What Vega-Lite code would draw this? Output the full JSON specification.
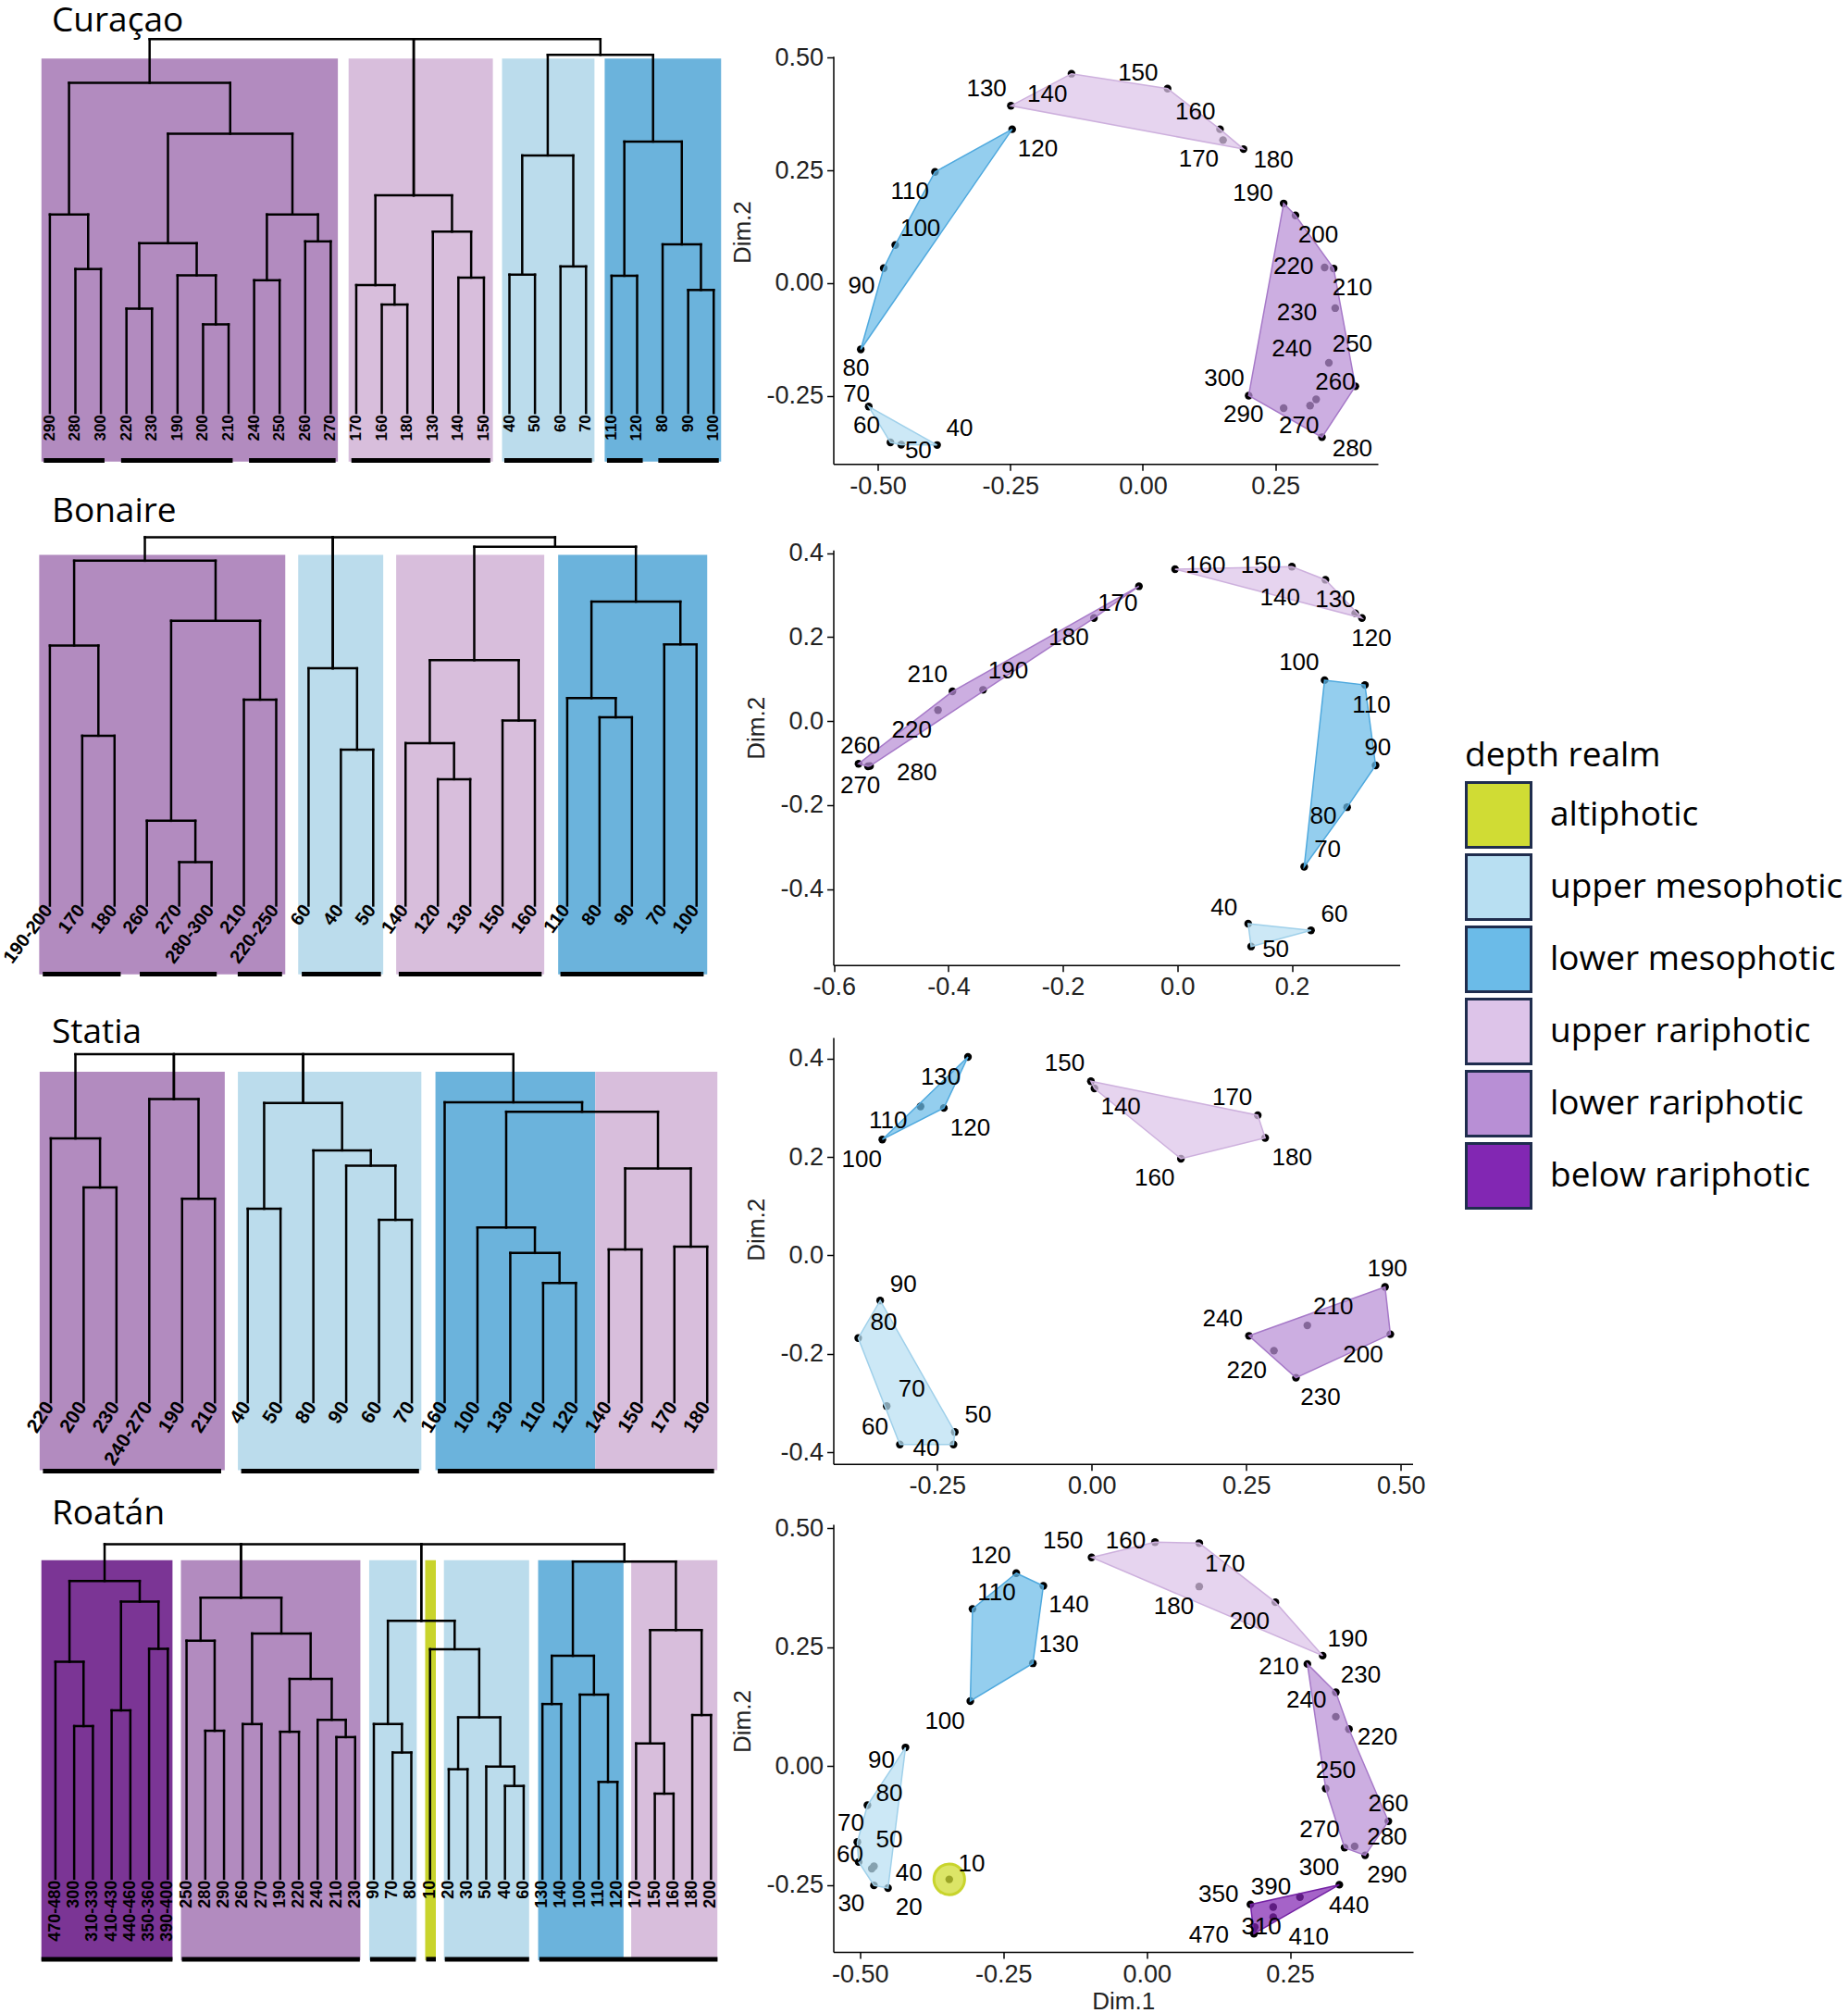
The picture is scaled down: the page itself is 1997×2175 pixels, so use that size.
{
"$schema":"https://vega.github.io/schema/vega-lite/v6.json",
"background":"white",
"padding":0,
"columns":2,
"spacing":{"row":0,"column":109.5},
"bounds":"flush",
"align":"each",
"datasets":{
"nodes":[
{"t":"Cur","xl":1,"xr":2,"hl":0,"hr":0,"h":0.385},
{"t":"Cur","xl":0,"xr":1.5,"hl":0,"hr":0.385,"h":0.531},
{"t":"Cur","xl":3,"xr":4,"hl":0,"hr":0,"h":0.279},
{"t":"Cur","xl":6,"xr":7,"hl":0,"hr":0,"h":0.237},
{"t":"Cur","xl":5,"xr":6.5,"hl":0,"hr":0.237,"h":0.368},
{"t":"Cur","xl":3.5,"xr":5.75,"hl":0.279,"hr":0.368,"h":0.454},
{"t":"Cur","xl":8,"xr":9,"hl":0,"hr":0,"h":0.355},
{"t":"Cur","xl":10,"xr":11,"hl":0,"hr":0,"h":0.459},
{"t":"Cur","xl":8.5,"xr":10.5,"hl":0.355,"hr":0.459,"h":0.531},
{"t":"Cur","xl":4.625,"xr":9.5,"hl":0.454,"hr":0.531,"h":0.747},
{"t":"Cur","xl":0.75,"xr":7.0625,"hl":0.531,"hr":0.747,"h":0.883},
{"t":"Cur","xl":13,"xr":14,"hl":0,"hr":0,"h":0.29},
{"t":"Cur","xl":12,"xr":13.5,"hl":0,"hr":0.29,"h":0.342},
{"t":"Cur","xl":16,"xr":17,"hl":0,"hr":0,"h":0.362},
{"t":"Cur","xl":15,"xr":16.5,"hl":0,"hr":0.362,"h":0.485},
{"t":"Cur","xl":12.75,"xr":15.75,"hl":0.342,"hr":0.485,"h":0.582},
{"t":"Cur","xl":18,"xr":19,"hl":0,"hr":0,"h":0.37},
{"t":"Cur","xl":20,"xr":21,"hl":0,"hr":0,"h":0.392},
{"t":"Cur","xl":18.5,"xr":20.5,"hl":0.37,"hr":0.392,"h":0.689},
{"t":"Cur","xl":22,"xr":23,"hl":0,"hr":0,"h":0.367},
{"t":"Cur","xl":25,"xr":26,"hl":0,"hr":0,"h":0.329},
{"t":"Cur","xl":24,"xr":25.5,"hl":0,"hr":0.329,"h":0.451},
{"t":"Cur","xl":22.5,"xr":24.75,"hl":0.367,"hr":0.451,"h":0.726},
{"t":"Cur","xl":19.5,"xr":23.625,"hl":0.689,"hr":0.726,"h":0.958},
{"t":"Cur","xl":3.90625,"xr":21.5625,"hl":0.883,"hr":0.958,"h":1},
{"t":"Cur","xl":14.25,"xr":14.25,"hl":0.582,"hr":0.582,"h":1},
{"t":"Bon","xl":1,"xr":2,"hl":0,"hr":0,"h":0.461},
{"t":"Bon","xl":0,"xr":1.5,"hl":0,"hr":0.461,"h":0.706},
{"t":"Bon","xl":4,"xr":5,"hl":0,"hr":0,"h":0.118},
{"t":"Bon","xl":3,"xr":4.5,"hl":0,"hr":0.118,"h":0.23},
{"t":"Bon","xl":6,"xr":7,"hl":0,"hr":0,"h":0.559},
{"t":"Bon","xl":3.75,"xr":6.5,"hl":0.23,"hr":0.559,"h":0.773},
{"t":"Bon","xl":0.75,"xr":5.125,"hl":0.706,"hr":0.773,"h":0.936},
{"t":"Bon","xl":9,"xr":10,"hl":0,"hr":0,"h":0.423},
{"t":"Bon","xl":8,"xr":9.5,"hl":0,"hr":0.423,"h":0.644},
{"t":"Bon","xl":12,"xr":13,"hl":0,"hr":0,"h":0.343},
{"t":"Bon","xl":11,"xr":12.5,"hl":0,"hr":0.343,"h":0.441},
{"t":"Bon","xl":14,"xr":15,"hl":0,"hr":0,"h":0.502},
{"t":"Bon","xl":11.75,"xr":14.5,"hl":0.441,"hr":0.502,"h":0.666},
{"t":"Bon","xl":17,"xr":18,"hl":0,"hr":0,"h":0.511},
{"t":"Bon","xl":16,"xr":17.5,"hl":0,"hr":0.511,"h":0.563},
{"t":"Bon","xl":19,"xr":20,"hl":0,"hr":0,"h":0.709},
{"t":"Bon","xl":16.75,"xr":19.5,"hl":0.563,"hr":0.709,"h":0.825},
{"t":"Bon","xl":13.125,"xr":18.125,"hl":0.666,"hr":0.825,"h":0.974},
{"t":"Bon","xl":2.9375,"xr":15.625,"hl":0.936,"hr":0.974,"h":1},
{"t":"Bon","xl":8.75,"xr":8.75,"hl":0.644,"hr":0.644,"h":1},
{"t":"Sta","xl":1,"xr":2,"hl":0,"hr":0,"h":0.617},
{"t":"Sta","xl":0,"xr":1.5,"hl":0,"hr":0.617,"h":0.758},
{"t":"Sta","xl":4,"xr":5,"hl":0,"hr":0,"h":0.585},
{"t":"Sta","xl":3,"xr":4.5,"hl":0,"hr":0.585,"h":0.871},
{"t":"Sta","xl":6,"xr":7,"hl":0,"hr":0,"h":0.556},
{"t":"Sta","xl":10,"xr":11,"hl":0,"hr":0,"h":0.524},
{"t":"Sta","xl":9,"xr":10.5,"hl":0,"hr":0.524,"h":0.68},
{"t":"Sta","xl":8,"xr":9.75,"hl":0,"hr":0.68,"h":0.724},
{"t":"Sta","xl":6.5,"xr":8.875,"hl":0.556,"hr":0.724,"h":0.86},
{"t":"Sta","xl":15,"xr":16,"hl":0,"hr":0,"h":0.343},
{"t":"Sta","xl":14,"xr":15.5,"hl":0,"hr":0.343,"h":0.429},
{"t":"Sta","xl":13,"xr":14.75,"hl":0,"hr":0.429,"h":0.502},
{"t":"Sta","xl":17,"xr":18,"hl":0,"hr":0,"h":0.439},
{"t":"Sta","xl":19,"xr":20,"hl":0,"hr":0,"h":0.447},
{"t":"Sta","xl":17.5,"xr":19.5,"hl":0.439,"hr":0.447,"h":0.672},
{"t":"Sta","xl":13.875,"xr":18.5,"hl":0.502,"hr":0.672,"h":0.835},
{"t":"Sta","xl":12,"xr":16.1875,"hl":0,"hr":0.835,"h":0.862},
{"t":"Sta","xl":0.75,"xr":14.09375,"hl":0.758,"hr":0.862,"h":1},
{"t":"Sta","xl":3.75,"xr":3.75,"hl":0.871,"hr":0.871,"h":1},
{"t":"Sta","xl":7.6875,"xr":7.6875,"hl":0.86,"hr":0.86,"h":1},
{"t":"Roa","xl":1,"xr":2,"hl":0,"hr":0,"h":0.456},
{"t":"Roa","xl":0,"xr":1.5,"hl":0,"hr":0.456,"h":0.648},
{"t":"Roa","xl":3,"xr":4,"hl":0,"hr":0,"h":0.503},
{"t":"Roa","xl":5,"xr":6,"hl":0,"hr":0,"h":0.687},
{"t":"Roa","xl":3.5,"xr":5.5,"hl":0.503,"hr":0.687,"h":0.828},
{"t":"Roa","xl":0.75,"xr":4.5,"hl":0.648,"hr":0.828,"h":0.89},
{"t":"Roa","xl":8,"xr":9,"hl":0,"hr":0,"h":0.442},
{"t":"Roa","xl":7,"xr":8.5,"hl":0,"hr":0.442,"h":0.711},
{"t":"Roa","xl":10,"xr":11,"hl":0,"hr":0,"h":0.462},
{"t":"Roa","xl":12,"xr":13,"hl":0,"hr":0,"h":0.439},
{"t":"Roa","xl":15,"xr":16,"hl":0,"hr":0,"h":0.423},
{"t":"Roa","xl":14,"xr":15.5,"hl":0,"hr":0.423,"h":0.475},
{"t":"Roa","xl":12.5,"xr":14.75,"hl":0.439,"hr":0.475,"h":0.597},
{"t":"Roa","xl":10.5,"xr":13.625,"hl":0.462,"hr":0.597,"h":0.733},
{"t":"Roa","xl":7.75,"xr":12.0625,"hl":0.711,"hr":0.733,"h":0.84},
{"t":"Roa","xl":18,"xr":19,"hl":0,"hr":0,"h":0.377},
{"t":"Roa","xl":17,"xr":18.5,"hl":0,"hr":0.377,"h":0.462},
{"t":"Roa","xl":21,"xr":22,"hl":0,"hr":0,"h":0.327},
{"t":"Roa","xl":24,"xr":25,"hl":0,"hr":0,"h":0.277},
{"t":"Roa","xl":23,"xr":24.5,"hl":0,"hr":0.277,"h":0.335},
{"t":"Roa","xl":21.5,"xr":23.75,"hl":0.327,"hr":0.335,"h":0.482},
{"t":"Roa","xl":20,"xr":22.625,"hl":0,"hr":0.482,"h":0.686},
{"t":"Roa","xl":17.75,"xr":21.3125,"hl":0.462,"hr":0.686,"h":0.771},
{"t":"Roa","xl":26,"xr":27,"hl":0,"hr":0,"h":0.522},
{"t":"Roa","xl":29,"xr":30,"hl":0,"hr":0,"h":0.289},
{"t":"Roa","xl":28,"xr":29.5,"hl":0,"hr":0.289,"h":0.55},
{"t":"Roa","xl":26.5,"xr":28.75,"hl":0.522,"hr":0.55,"h":0.666},
{"t":"Roa","xl":32,"xr":33,"hl":0,"hr":0,"h":0.254},
{"t":"Roa","xl":31,"xr":32.5,"hl":0,"hr":0.254,"h":0.404},
{"t":"Roa","xl":34,"xr":35,"hl":0,"hr":0,"h":0.489},
{"t":"Roa","xl":31.75,"xr":34.5,"hl":0.404,"hr":0.489,"h":0.743},
{"t":"Roa","xl":27.625,"xr":33.125,"hl":0.666,"hr":0.743,"h":0.948},
{"t":"Roa","xl":2.625,"xr":30.375,"hl":0.89,"hr":0.948,"h":1},
{"t":"Roa","xl":9.90625,"xr":9.90625,"hl":0.84,"hr":0.84,"h":1},
{"t":"Roa","xl":19.53125,"xr":19.53125,"hl":0.771,"hr":0.771,"h":1}
],
"leaves":[
{"t":"Cur","i":0,"lab":"290"},{"t":"Cur","i":1,"lab":"280"},{"t":"Cur","i":2,"lab":"300"},{"t":"Cur","i":3,"lab":"220"},{"t":"Cur","i":4,"lab":"230"},{"t":"Cur","i":5,"lab":"190"},{"t":"Cur","i":6,"lab":"200"},{"t":"Cur","i":7,"lab":"210"},{"t":"Cur","i":8,"lab":"240"},{"t":"Cur","i":9,"lab":"250"},{"t":"Cur","i":10,"lab":"260"},{"t":"Cur","i":11,"lab":"270"},{"t":"Cur","i":12,"lab":"170"},{"t":"Cur","i":13,"lab":"160"},{"t":"Cur","i":14,"lab":"180"},{"t":"Cur","i":15,"lab":"130"},{"t":"Cur","i":16,"lab":"140"},{"t":"Cur","i":17,"lab":"150"},{"t":"Cur","i":18,"lab":"40"},{"t":"Cur","i":19,"lab":"50"},{"t":"Cur","i":20,"lab":"60"},{"t":"Cur","i":21,"lab":"70"},{"t":"Cur","i":22,"lab":"110"},{"t":"Cur","i":23,"lab":"120"},{"t":"Cur","i":24,"lab":"80"},{"t":"Cur","i":25,"lab":"90"},{"t":"Cur","i":26,"lab":"100"},
{"t":"Bon","i":0,"lab":"190-200"},{"t":"Bon","i":1,"lab":"170"},{"t":"Bon","i":2,"lab":"180"},{"t":"Bon","i":3,"lab":"260"},{"t":"Bon","i":4,"lab":"270"},{"t":"Bon","i":5,"lab":"280-300"},{"t":"Bon","i":6,"lab":"210"},{"t":"Bon","i":7,"lab":"220-250"},{"t":"Bon","i":8,"lab":"60"},{"t":"Bon","i":9,"lab":"40"},{"t":"Bon","i":10,"lab":"50"},{"t":"Bon","i":11,"lab":"140"},{"t":"Bon","i":12,"lab":"120"},{"t":"Bon","i":13,"lab":"130"},{"t":"Bon","i":14,"lab":"150"},{"t":"Bon","i":15,"lab":"160"},{"t":"Bon","i":16,"lab":"110"},{"t":"Bon","i":17,"lab":"80"},{"t":"Bon","i":18,"lab":"90"},{"t":"Bon","i":19,"lab":"70"},{"t":"Bon","i":20,"lab":"100"},
{"t":"Sta","i":0,"lab":"220"},{"t":"Sta","i":1,"lab":"200"},{"t":"Sta","i":2,"lab":"230"},{"t":"Sta","i":3,"lab":"240-270"},{"t":"Sta","i":4,"lab":"190"},{"t":"Sta","i":5,"lab":"210"},{"t":"Sta","i":6,"lab":"40"},{"t":"Sta","i":7,"lab":"50"},{"t":"Sta","i":8,"lab":"80"},{"t":"Sta","i":9,"lab":"90"},{"t":"Sta","i":10,"lab":"60"},{"t":"Sta","i":11,"lab":"70"},{"t":"Sta","i":12,"lab":"160"},{"t":"Sta","i":13,"lab":"100"},{"t":"Sta","i":14,"lab":"130"},{"t":"Sta","i":15,"lab":"110"},{"t":"Sta","i":16,"lab":"120"},{"t":"Sta","i":17,"lab":"140"},{"t":"Sta","i":18,"lab":"150"},{"t":"Sta","i":19,"lab":"170"},{"t":"Sta","i":20,"lab":"180"},
{"t":"Roa","i":0,"lab":"470-480"},{"t":"Roa","i":1,"lab":"300"},{"t":"Roa","i":2,"lab":"310-330"},{"t":"Roa","i":3,"lab":"410-430"},{"t":"Roa","i":4,"lab":"440-460"},{"t":"Roa","i":5,"lab":"350-360"},{"t":"Roa","i":6,"lab":"390-400"},{"t":"Roa","i":7,"lab":"250"},{"t":"Roa","i":8,"lab":"280"},{"t":"Roa","i":9,"lab":"290"},{"t":"Roa","i":10,"lab":"260"},{"t":"Roa","i":11,"lab":"270"},{"t":"Roa","i":12,"lab":"190"},{"t":"Roa","i":13,"lab":"220"},{"t":"Roa","i":14,"lab":"240"},{"t":"Roa","i":15,"lab":"210"},{"t":"Roa","i":16,"lab":"230"},{"t":"Roa","i":17,"lab":"90"},{"t":"Roa","i":18,"lab":"70"},{"t":"Roa","i":19,"lab":"80"},{"t":"Roa","i":20,"lab":"10"},{"t":"Roa","i":21,"lab":"20"},{"t":"Roa","i":22,"lab":"30"},{"t":"Roa","i":23,"lab":"50"},{"t":"Roa","i":24,"lab":"40"},{"t":"Roa","i":25,"lab":"60"},{"t":"Roa","i":26,"lab":"130"},{"t":"Roa","i":27,"lab":"140"},{"t":"Roa","i":28,"lab":"100"},{"t":"Roa","i":29,"lab":"110"},{"t":"Roa","i":30,"lab":"120"},{"t":"Roa","i":31,"lab":"170"},{"t":"Roa","i":32,"lab":"150"},{"t":"Roa","i":33,"lab":"160"},{"t":"Roa","i":34,"lab":"180"},{"t":"Roa","i":35,"lab":"200"}
],
"rects":[
{"t":"Cur","x0":-0.33,"x1":11.28,"y0":-0.13,"y1":0.948,"realm":"lower rariphotic"},
{"t":"Cur","x0":11.7,"x1":17.35,"y0":-0.13,"y1":0.948,"realm":"upper rariphotic"},
{"t":"Cur","x0":17.71,"x1":21.33,"y0":-0.13,"y1":0.948,"realm":"upper mesophotic"},
{"t":"Cur","x0":21.73,"x1":26.29,"y0":-0.13,"y1":0.948,"realm":"lower mesophotic"},
{"t":"Bon","x0":-0.33,"x1":7.28,"y0":-0.187,"y1":0.952,"realm":"lower rariphotic"},
{"t":"Bon","x0":7.68,"x1":10.31,"y0":-0.187,"y1":0.952,"realm":"upper mesophotic"},
{"t":"Bon","x0":10.71,"x1":15.29,"y0":-0.187,"y1":0.952,"realm":"upper rariphotic"},
{"t":"Bon","x0":15.72,"x1":20.33,"y0":-0.187,"y1":0.952,"realm":"lower mesophotic"},
{"t":"Sta","x0":-0.34,"x1":5.3,"y0":-0.195,"y1":0.95,"realm":"lower rariphotic"},
{"t":"Sta","x0":5.7,"x1":11.29,"y0":-0.195,"y1":0.95,"realm":"upper mesophotic"},
{"t":"Sta","x0":11.72,"x1":16.59,"y0":-0.195,"y1":0.95,"realm":"lower mesophotic"},
{"t":"Sta","x0":16.59,"x1":20.31,"y0":-0.195,"y1":0.95,"realm":"upper rariphotic"},
{"t":"Roa","x0":-0.75,"x1":6.25,"y0":-0.244,"y1":0.952,"realm":"below rariphotic"},
{"t":"Roa","x0":6.7,"x1":16.28,"y0":-0.244,"y1":0.952,"realm":"lower rariphotic"},
{"t":"Roa","x0":16.75,"x1":19.29,"y0":-0.244,"y1":0.952,"realm":"upper mesophotic"},
{"t":"Roa","x0":19.74,"x1":20.31,"y0":-0.244,"y1":0.952,"realm":"altiphotic"},
{"t":"Roa","x0":20.74,"x1":25.29,"y0":-0.244,"y1":0.952,"realm":"upper mesophotic"},
{"t":"Roa","x0":25.77,"x1":30.33,"y0":-0.244,"y1":0.952,"realm":"lower mesophotic"},
{"t":"Roa","x0":30.74,"x1":35.34,"y0":-0.244,"y1":0.952,"realm":"upper rariphotic"}
],
"bars":[
{"t":"Cur","x0":-0.24,"x1":2.14,"y":-0.127},{"t":"Cur","x0":2.79,"x1":7.16,"y":-0.127},{"t":"Cur","x0":7.8,"x1":11.19,"y":-0.127},{"t":"Cur","x0":11.81,"x1":17.25,"y":-0.127},{"t":"Cur","x0":17.8,"x1":21.23,"y":-0.127},{"t":"Cur","x0":21.82,"x1":23.22,"y":-0.127},{"t":"Cur","x0":23.83,"x1":26.2,"y":-0.127},
{"t":"Bon","x0":-0.22,"x1":2.19,"y":-0.186},{"t":"Bon","x0":2.78,"x1":5.16,"y":-0.186},{"t":"Bon","x0":5.81,"x1":7.18,"y":-0.186},{"t":"Bon","x0":7.79,"x1":10.24,"y":-0.186},{"t":"Bon","x0":10.79,"x1":15.21,"y":-0.186},{"t":"Bon","x0":15.79,"x1":20.22,"y":-0.186},
{"t":"Sta","x0":-0.24,"x1":5.19,"y":-0.198},{"t":"Sta","x0":5.8,"x1":11.22,"y":-0.198},{"t":"Sta","x0":11.79,"x1":20.21,"y":-0.198},
{"t":"Roa","x0":-0.75,"x1":6.25,"y":-0.241},{"t":"Roa","x0":6.75,"x1":16.25,"y":-0.241},{"t":"Roa","x0":16.8,"x1":19.24,"y":-0.241},{"t":"Roa","x0":19.79,"x1":20.31,"y":-0.241},{"t":"Roa","x0":20.79,"x1":25.29,"y":-0.241},{"t":"Roa","x0":25.84,"x1":35.35,"y":-0.241}
],
"pts":[
{"t":"Cur","n":"40","x":-0.388,"y":-0.3587,"lx":-0.3454,"ly":-0.322,"realm":"upper mesophotic","ho":4},
{"t":"Cur","n":"50","x":-0.4557,"y":-0.358,"lx":-0.4235,"ly":-0.3705,"realm":"upper mesophotic","ho":3},
{"t":"Cur","n":"60","x":-0.476,"y":-0.353,"lx":-0.521,"ly":-0.315,"realm":"upper mesophotic","ho":2},
{"t":"Cur","n":"70","x":-0.517,"y":-0.2735,"lx":-0.54,"ly":-0.2458,"realm":"upper mesophotic","ho":1},
{"t":"Cur","n":"80","x":-0.532,"y":-0.1468,"lx":-0.541,"ly":-0.189,"realm":"lower mesophotic","ho":1},
{"t":"Cur","n":"90","x":-0.4887,"y":0.0332,"lx":-0.5306,"ly":-0.0069,"realm":"lower mesophotic","ho":2},
{"t":"Cur","n":"100","x":-0.467,"y":0.0845,"lx":-0.4195,"ly":0.1212,"realm":"lower mesophotic","ho":3},
{"t":"Cur","n":"110","x":-0.392,"y":0.2465,"lx":-0.4396,"ly":0.2029,"realm":"lower mesophotic","ho":4},
{"t":"Cur","n":"120","x":-0.2464,"y":0.341,"lx":-0.198,"ly":0.2978,"realm":"lower mesophotic","ho":5},
{"t":"Cur","n":"130","x":-0.2488,"y":0.393,"lx":-0.2947,"ly":0.4314,"realm":"upper rariphotic","ho":1},
{"t":"Cur","n":"140","x":-0.1345,"y":0.464,"lx":-0.1803,"ly":0.419,"realm":"upper rariphotic","ho":2},
{"t":"Cur","n":"150","x":0.0467,"y":0.431,"lx":-0.0089,"ly":0.466,"realm":"upper rariphotic","ho":3},
{"t":"Cur","n":"160","x":0.1457,"y":0.341,"lx":0.099,"ly":0.379,"realm":"upper rariphotic","ho":4},
{"t":"Cur","n":"170","x":0.1514,"y":0.317,"lx":0.1055,"ly":0.275,"realm":"upper rariphotic","ho":null},
{"t":"Cur","n":"180","x":0.19,"y":0.297,"lx":0.2464,"ly":0.272,"realm":"upper rariphotic","ho":5},
{"t":"Cur","n":"190","x":0.2657,"y":0.1766,"lx":0.2077,"ly":0.1994,"realm":"lower rariphotic","ho":1},
{"t":"Cur","n":"200","x":0.288,"y":0.15,"lx":0.3309,"ly":0.1073,"realm":"lower rariphotic","ho":2},
{"t":"Cur","n":"210","x":0.36,"y":0.0325,"lx":0.3953,"ly":-0.0104,"realm":"lower rariphotic","ho":3},
{"t":"Cur","n":"220","x":0.343,"y":0.0346,"lx":0.2842,"ly":0.036,"realm":"lower rariphotic","ho":null},
{"t":"Cur","n":"230","x":0.363,"y":-0.0554,"lx":0.2907,"ly":-0.0658,"realm":"lower rariphotic","ho":null},
{"t":"Cur","n":"240","x":0.327,"y":-0.2576,"lx":0.281,"ly":-0.1468,"realm":"lower rariphotic","ho":null},
{"t":"Cur","n":"250","x":0.351,"y":-0.1766,"lx":0.3953,"ly":-0.135,"realm":"lower rariphotic","ho":null},
{"t":"Cur","n":"260","x":0.401,"y":-0.2285,"lx":0.3631,"ly":-0.2195,"realm":"lower rariphotic","ho":4},
{"t":"Cur","n":"270","x":0.3156,"y":-0.2715,"lx":0.2947,"ly":-0.315,"realm":"lower rariphotic","ho":null},
{"t":"Cur","n":"280","x":0.338,"y":-0.3414,"lx":0.3953,"ly":-0.367,"realm":"lower rariphotic","ho":5},
{"t":"Cur","n":"290","x":0.2657,"y":-0.277,"lx":0.19,"ly":-0.2909,"realm":"lower rariphotic","ho":null},
{"t":"Cur","n":"300","x":0.1997,"y":-0.2493,"lx":0.1538,"ly":-0.2112,"realm":"lower rariphotic","ho":6},
{"t":"Bon","n":"40","x":0.1236,"y":-0.4819,"lx":0.0813,"ly":-0.4436,"realm":"upper mesophotic","ho":1},
{"t":"Bon","n":"50","x":0.1288,"y":-0.5363,"lx":0.1718,"ly":-0.5439,"realm":"upper mesophotic","ho":3},
{"t":"Bon","n":"60","x":0.2334,"y":-0.498,"lx":0.2742,"ly":-0.4597,"realm":"upper mesophotic","ho":2},
{"t":"Bon","n":"70","x":0.2215,"y":-0.3464,"lx":0.2623,"ly":-0.3058,"realm":"lower mesophotic","ho":5},
{"t":"Bon","n":"80","x":0.2965,"y":-0.2048,"lx":0.2549,"ly":-0.2262,"realm":"lower mesophotic","ho":4},
{"t":"Bon","n":"90","x":0.3462,"y":-0.1053,"lx":0.35,"ly":-0.0632,"realm":"lower mesophotic","ho":3},
{"t":"Bon","n":"100","x":0.2571,"y":0.0976,"lx":0.2126,"ly":0.1382,"realm":"lower mesophotic","ho":1},
{"t":"Bon","n":"110","x":0.3276,"y":0.0861,"lx":0.3388,"ly":0.0379,"realm":"lower mesophotic","ho":2},
{"t":"Bon","n":"120","x":0.3224,"y":0.2454,"lx":0.3388,"ly":0.1971,"realm":"upper rariphotic","ho":4},
{"t":"Bon","n":"130","x":0.3106,"y":0.2568,"lx":0.2757,"ly":0.289,"realm":"upper rariphotic","ho":null},
{"t":"Bon","n":"140","x":0.2586,"y":0.3365,"lx":0.1792,"ly":0.2928,"realm":"upper rariphotic","ho":3},
{"t":"Bon","n":"150","x":0.2,"y":0.3678,"lx":0.1458,"ly":0.3694,"realm":"upper rariphotic","ho":2},
{"t":"Bon","n":"160","x":-0.0041,"y":0.3617,"lx":0.0493,"ly":0.3694,"realm":"upper rariphotic","ho":1},
{"t":"Bon","n":"170","x":-0.0672,"y":0.3211,"lx":-0.1043,"ly":0.2798,"realm":"lower rariphotic","ho":1},
{"t":"Bon","n":"180","x":-0.1458,"y":0.2454,"lx":-0.1896,"ly":0.1987,"realm":"lower rariphotic","ho":2},
{"t":"Bon","n":"190","x":-0.3395,"y":0.0746,"lx":-0.2957,"ly":0.1183,"realm":"lower rariphotic","ho":null},
{"t":"Bon","n":"210","x":-0.393,"y":0.0708,"lx":-0.4367,"ly":0.1114,"realm":"lower rariphotic","ho":6},
{"t":"Bon","n":"220","x":-0.4182,"y":0.0264,"lx":-0.4642,"ly":-0.021,"realm":"lower rariphotic","ho":null},
{"t":"Bon","n":"260","x":-0.557,"y":-0.1014,"lx":-0.554,"ly":-0.0593,"realm":"lower rariphotic","ho":5},
{"t":"Bon","n":"270","x":-0.5406,"y":-0.1075,"lx":-0.554,"ly":-0.1535,"realm":"lower rariphotic","ho":4},
{"t":"Bon","n":"280","x":-0.5369,"y":-0.1067,"lx":-0.4553,"ly":-0.1229,"realm":"lower rariphotic","ho":3},
{"t":"Sta","n":"40","x":-0.2237,"y":-0.384,"lx":-0.2678,"ly":-0.3917,"realm":"upper mesophotic","ho":3},
{"t":"Sta","n":"50","x":-0.2216,"y":-0.3584,"lx":-0.184,"ly":-0.3245,"realm":"upper mesophotic","ho":2},
{"t":"Sta","n":"60","x":-0.3104,"y":-0.384,"lx":-0.3509,"ly":-0.3488,"realm":"upper mesophotic","ho":4},
{"t":"Sta","n":"70","x":-0.3317,"y":-0.3059,"lx":-0.2912,"ly":-0.2707,"realm":"upper mesophotic","ho":null},
{"t":"Sta","n":"80","x":-0.3778,"y":-0.1677,"lx":-0.3366,"ly":-0.1363,"realm":"upper mesophotic","ho":5},
{"t":"Sta","n":"90","x":-0.3423,"y":-0.0915,"lx":-0.3047,"ly":-0.0595,"realm":"upper mesophotic","ho":1},
{"t":"Sta","n":"100","x":-0.3388,"y":0.2355,"lx":-0.3722,"ly":0.1952,"realm":"lower mesophotic","ho":1},
{"t":"Sta","n":"110","x":-0.277,"y":0.3027,"lx":-0.3295,"ly":0.2739,"realm":"lower mesophotic","ho":null},
{"t":"Sta","n":"120","x":-0.2393,"y":0.2995,"lx":-0.1967,"ly":0.2592,"realm":"lower mesophotic","ho":3},
{"t":"Sta","n":"130","x":-0.2003,"y":0.4032,"lx":-0.2443,"ly":0.3616,"realm":"lower mesophotic","ho":2},
{"t":"Sta","n":"140","x":0.0043,"y":0.3392,"lx":0.0469,"ly":0.3008,"realm":"upper rariphotic","ho":5},
{"t":"Sta","n":"150","x":-0.0014,"y":0.3539,"lx":-0.044,"ly":0.3891,"realm":"upper rariphotic","ho":1},
{"t":"Sta","n":"160","x":0.1442,"y":0.1965,"lx":0.1016,"ly":0.1568,"realm":"upper rariphotic","ho":4},
{"t":"Sta","n":"170","x":0.2685,"y":0.2848,"lx":0.2273,"ly":0.32,"realm":"upper rariphotic","ho":2},
{"t":"Sta","n":"180","x":0.2805,"y":0.2387,"lx":0.3239,"ly":0.1984,"realm":"upper rariphotic","ho":3},
{"t":"Sta","n":"190","x":0.4744,"y":-0.064,"lx":0.478,"ly":-0.0269,"realm":"lower rariphotic","ho":2},
{"t":"Sta","n":"200","x":0.483,"y":-0.16,"lx":0.439,"ly":-0.2016,"realm":"lower rariphotic","ho":3},
{"t":"Sta","n":"210","x":0.3487,"y":-0.1421,"lx":0.3906,"ly":-0.1043,"realm":"lower rariphotic","ho":null},
{"t":"Sta","n":"220","x":0.2947,"y":-0.1933,"lx":0.2507,"ly":-0.2336,"realm":"lower rariphotic","ho":null},
{"t":"Sta","n":"230","x":0.3303,"y":-0.2483,"lx":0.37,"ly":-0.288,"realm":"lower rariphotic","ho":4},
{"t":"Sta","n":"240","x":0.2543,"y":-0.1632,"lx":0.2116,"ly":-0.128,"realm":"lower rariphotic","ho":1},
{"t":"Roa","n":"10","x":-0.3443,"y":-0.2377,"lx":-0.3053,"ly":-0.2048,"realm":"altiphotic","ho":null},
{"t":"Roa","n":"20","x":-0.4511,"y":-0.256,"lx":-0.4145,"ly":-0.2959,"realm":"upper mesophotic","ho":2},
{"t":"Roa","n":"30","x":-0.4756,"y":-0.2504,"lx":-0.5153,"ly":-0.2889,"realm":"upper mesophotic","ho":3},
{"t":"Roa","n":"40","x":-0.4794,"y":-0.2153,"lx":-0.4145,"ly":-0.2258,"realm":"upper mesophotic","ho":null},
{"t":"Roa","n":"50","x":-0.4756,"y":-0.2104,"lx":-0.4489,"ly":-0.1557,"realm":"upper mesophotic","ho":null},
{"t":"Roa","n":"60","x":-0.5023,"y":-0.2013,"lx":-0.5176,"ly":-0.1851,"realm":"upper mesophotic","ho":4},
{"t":"Roa","n":"70","x":-0.5046,"y":-0.1592,"lx":-0.516,"ly":-0.1192,"realm":"upper mesophotic","ho":5},
{"t":"Roa","n":"80","x":-0.487,"y":-0.082,"lx":-0.4489,"ly":-0.0575,"realm":"upper mesophotic","ho":6},
{"t":"Roa","n":"90","x":-0.4206,"y":0.0393,"lx":-0.4626,"ly":0.0126,"realm":"upper mesophotic","ho":1},
{"t":"Roa","n":"100","x":-0.3076,"y":0.1367,"lx":-0.3519,"ly":0.0933,"realm":"lower mesophotic","ho":4},
{"t":"Roa","n":"110","x":-0.3038,"y":0.3303,"lx":-0.2618,"ly":0.3633,"realm":"lower mesophotic","ho":5},
{"t":"Roa","n":"120","x":-0.2275,"y":0.4053,"lx":-0.2718,"ly":0.4418,"realm":"lower mesophotic","ho":1},
{"t":"Roa","n":"130","x":-0.1985,"y":0.216,"lx":-0.1534,"ly":0.2546,"realm":"lower mesophotic","ho":3},
{"t":"Roa","n":"140","x":-0.1802,"y":0.3787,"lx":-0.1359,"ly":0.3387,"realm":"lower mesophotic","ho":2},
{"t":"Roa","n":"150","x":-0.0962,"y":0.4383,"lx":-0.1458,"ly":0.472,"realm":"upper rariphotic","ho":1},
{"t":"Roa","n":"160","x":0.0145,"y":0.4705,"lx":-0.0366,"ly":0.472,"realm":"upper rariphotic","ho":2},
{"t":"Roa","n":"170","x":0.0916,"y":0.4684,"lx":0.1366,"ly":0.425,"realm":"upper rariphotic","ho":3},
{"t":"Roa","n":"180","x":0.0916,"y":0.3773,"lx":0.0473,"ly":0.3352,"realm":"upper rariphotic","ho":null},
{"t":"Roa","n":"190","x":0.3069,"y":0.2321,"lx":0.3504,"ly":0.2672,"realm":"upper rariphotic","ho":5},
{"t":"Roa","n":"200","x":0.2244,"y":0.3443,"lx":0.1794,"ly":0.3036,"realm":"upper rariphotic","ho":4},
{"t":"Roa","n":"210","x":0.2802,"y":0.2146,"lx":0.2305,"ly":0.209,"realm":"lower rariphotic","ho":1},
{"t":"Roa","n":"220","x":0.3527,"y":0.0778,"lx":0.4023,"ly":0.0603,"realm":"lower rariphotic","ho":3},
{"t":"Roa","n":"230","x":0.3298,"y":0.155,"lx":0.3733,"ly":0.1914,"realm":"lower rariphotic","ho":2},
{"t":"Roa","n":"240","x":0.3298,"y":0.1038,"lx":0.2786,"ly":0.1388,"realm":"lower rariphotic","ho":null},
{"t":"Roa","n":"250","x":0.3122,"y":-0.047,"lx":0.3298,"ly":-0.0084,"realm":"lower rariphotic","ho":7},
{"t":"Roa","n":"260","x":0.4214,"y":-0.1157,"lx":0.4214,"ly":-0.0785,"realm":"lower rariphotic","ho":4},
{"t":"Roa","n":"270","x":0.345,"y":-0.1711,"lx":0.3015,"ly":-0.1332,"realm":"lower rariphotic","ho":6},
{"t":"Roa","n":"280","x":0.3626,"y":-0.1683,"lx":0.4191,"ly":-0.1487,"realm":"lower rariphotic","ho":null},
{"t":"Roa","n":"290","x":0.3809,"y":-0.1872,"lx":0.4191,"ly":-0.2293,"realm":"lower rariphotic","ho":5},
{"t":"Roa","n":"300","x":0.2672,"y":-0.2749,"lx":0.3008,"ly":-0.2132,"realm":"below rariphotic","ho":null},
{"t":"Roa","n":"310","x":0.1885,"y":-0.338,"lx":0.2,"ly":-0.338,"realm":"below rariphotic","ho":null},
{"t":"Roa","n":"350","x":0.1809,"y":-0.2903,"lx":0.1252,"ly":-0.27,"realm":"below rariphotic","ho":1},
{"t":"Roa","n":"390","x":0.2206,"y":-0.2959,"lx":0.2168,"ly":-0.2539,"realm":"below rariphotic","ho":null},
{"t":"Roa","n":"410","x":0.2206,"y":-0.317,"lx":0.2824,"ly":-0.359,"realm":"below rariphotic","ho":null},
{"t":"Roa","n":"440","x":0.3359,"y":-0.249,"lx":0.3527,"ly":-0.2938,"realm":"below rariphotic","ho":2},
{"t":"Roa","n":"470","x":0.187,"y":-0.352,"lx":0.1084,"ly":-0.3555,"realm":"below rariphotic","ho":3}
]
},
"concat":[
{"width":790,"height":530,
"title":{"text":"Curaçao","anchor":"start","frame":"group","orient":"top","offset":-71,"dx":55,"baseline":"alphabetic","font":"Open Sans","fontSize":37,"fontWeight":"normal","color":"black"},
"layer":[
{"data":{"name":"rects"},"transform":[{"filter":"datum.t=='Cur'"}],"mark":{"type":"rect"},"encoding":{"x":{"field":"x0","type":"quantitative","scale":{"domain":[-1.917,26.716],"nice":false,"zero":false},"axis":null},"x2":{"field":"x1"},"y":{"field":"y0","type":"quantitative","scale":{"domain":[-0.2075,1.1047],"nice":false,"zero":false},"axis":null},"y2":{"field":"y1"},"color":{"field":"realm","type":"nominal","scale":{"domain":["below rariphotic","lower rariphotic","upper rariphotic","lower mesophotic","upper mesophotic","altiphotic"],"range":["#7b3595","#b28bbf","#d8bedc","#6bb3dc","#bbdcec","#c9d42c"]},"legend":null}}},
{"data":{"name":"bars"},"transform":[{"filter":"datum.t=='Cur'"}],"mark":{"type":"rule","color":"black","strokeWidth":5,"strokeCap":"butt"},"encoding":{"x":{"field":"x0","type":"quantitative","axis":null},"x2":{"field":"x1"},"y":{"field":"y","type":"quantitative","axis":null}}},
{"data":{"name":"nodes"},"transform":[{"filter":"datum.t=='Cur'"}],"mark":{"type":"rule","color":"black","strokeWidth":2.5,"strokeCap":"square"},"encoding":{"x":{"field":"xl","type":"quantitative","axis":null},"x2":{"field":"xr"},"y":{"field":"h","type":"quantitative","axis":null}}},
{"data":{"name":"nodes"},"transform":[{"filter":"datum.t=='Cur'"}],"mark":{"type":"rule","color":"black","strokeWidth":2.5,"strokeCap":"square"},"encoding":{"x":{"field":"xl","type":"quantitative","axis":null},"y":{"field":"hl","type":"quantitative","axis":null},"y2":{"field":"h"}}},
{"data":{"name":"nodes"},"transform":[{"filter":"datum.t=='Cur'"}],"mark":{"type":"rule","color":"black","strokeWidth":2.5,"strokeCap":"square"},"encoding":{"x":{"field":"xr","type":"quantitative","axis":null},"y":{"field":"hr","type":"quantitative","axis":null},"y2":{"field":"h"}}},
{"data":{"name":"leaves"},"transform":[{"filter":"datum.t=='Cur'"}],"mark":{"type":"text","angle":270,"align":"right","baseline":"middle","dx":-2,"font":"Liberation Sans","fontSize":17,"fontWeight":"bold","color":"black"},"encoding":{"x":{"field":"i","type":"quantitative","axis":null},"y":{"datum":0,"type":"quantitative","axis":null},"text":{"field":"lab"}}}
]},
{"width":588.5,"height":501.3,
"layer":[
{"data":{"name":"pts"},"transform":[{"filter":"datum.t=='Cur'"}],"mark":{"type":"circle","size":70,"color":"black","opacity":1},"encoding":{"x":{"field":"x","type":"quantitative","scale":{"domain":[-0.5838,0.4435],"nice":false,"zero":false},"axis":{"values":[-0.5,-0.25,0,0.25],"labelExpr":"replace(format(datum.value,'.2f'),'\u2212','-')","title":null}},"y":{"field":"y","type":"quantitative","scale":{"domain":[-0.4007,0.6274],"nice":false,"zero":false},"axis":{"values":[-0.25,0,0.25,0.5],"labelExpr":"replace(format(datum.value,'.2f'),'\u2212','-')","title":"Dim.2","domainDash":[440.5,3000]}}}},
{"data":{"name":"pts"},"transform":[{"filter":"datum.t=='Cur' && isValid(datum.ho)"}],"mark":{"type":"line","interpolate":"linear-closed","fillOpacity":0.72,"strokeWidth":1.5},"encoding":{"x":{"field":"x","type":"quantitative","axis":{"values":[-0.5,-0.25,0,0.25],"labelExpr":"replace(format(datum.value,'.2f'),'\u2212','-')","title":null}},"y":{"field":"y","type":"quantitative","axis":{"values":[-0.25,0,0.25,0.5],"labelExpr":"replace(format(datum.value,'.2f'),'\u2212','-')","title":"Dim.2","domainDash":[440.5,3000]}},"order":{"field":"ho","type":"quantitative"},"fill":{"field":"realm","type":"nominal","scale":{"domain":["altiphotic","upper mesophotic","lower mesophotic","upper rariphotic","lower rariphotic","below rariphotic"],"range":["#d0dc34","#b8dff2","#6bbbe8","#ddc4e9","#b88fd5","#8227b3"]},"legend":{"title":"depth realm","orient":"none","legendX":1582,"legendY":799,"padding":0,"symbolType":"square","symbolSize":4900,"symbolStrokeColor":"#1f2d4e","symbolStrokeWidth":3,"symbolOpacity":1,"titleFont":"Open Sans","titleFontSize":37,"titleFontWeight":"normal","titleColor":"black","titlePadding":8,"titleLimit":0,"labelFont":"Open Sans","labelFontSize":37,"labelColor":"black","labelOffset":19,"labelLimit":0,"rowPadding":-13.5,"encode":{"symbols":{"update":{"fill":{"scale":"fill","field":"value"},"fillOpacity":{"value":1},"opacity":{"value":1},"stroke":{"value":"#1f2d4e"},"strokeWidth":{"value":3}}}}}},"stroke":{"field":"realm","type":"nominal","scale":{"domain":["upper mesophotic","altiphotic","lower mesophotic","upper rariphotic","lower rariphotic","below rariphotic"],"range":["#9fd0ea","#c8d42c","#4fa9de","#cdb0dd","#a679c8","#7321a3"]},"legend":null}}},
{"data":{"name":"pts"},"transform":[{"filter":"datum.t=='Cur'"}],"mark":{"type":"text","font":"Liberation Sans","fontSize":26,"color":"black","align":"center","baseline":"middle"},"encoding":{"x":{"field":"lx","type":"quantitative","axis":{"values":[-0.5,-0.25,0,0.25],"labelExpr":"replace(format(datum.value,'.2f'),'\u2212','-')","title":null}},"y":{"field":"ly","type":"quantitative","axis":{"values":[-0.25,0,0.25,0.5],"labelExpr":"replace(format(datum.value,'.2f'),'\u2212','-')","title":"Dim.2","domainDash":[440.5,3000]}},"text":{"field":"n"}}}
]},
{"width":790,"height":545,
"title":{"text":"Bonaire","anchor":"start","frame":"group","orient":"top","offset":-71,"dx":55,"baseline":"alphabetic","font":"Open Sans","fontSize":37,"fontWeight":"normal","color":"black"},
"layer":[
{"data":{"name":"rects"},"transform":[{"filter":"datum.t=='Bon'"}],"mark":{"type":"rect"},"encoding":{"x":{"field":"x0","type":"quantitative","scale":{"domain":[-1.514,21.096],"nice":false,"zero":false},"axis":null},"x2":{"field":"x1"},"y":{"field":"y0","type":"quantitative","scale":{"domain":[-0.2427,1.1266],"nice":false,"zero":false},"axis":null},"y2":{"field":"y1"},"color":{"field":"realm","type":"nominal","scale":{"domain":["below rariphotic","lower rariphotic","upper rariphotic","lower mesophotic","upper mesophotic","altiphotic"],"range":["#7b3595","#b28bbf","#d8bedc","#6bb3dc","#bbdcec","#c9d42c"]},"legend":null}}},
{"data":{"name":"bars"},"transform":[{"filter":"datum.t=='Bon'"}],"mark":{"type":"rule","color":"black","strokeWidth":5,"strokeCap":"butt"},"encoding":{"x":{"field":"x0","type":"quantitative","axis":null},"x2":{"field":"x1"},"y":{"field":"y","type":"quantitative","axis":null}}},
{"data":{"name":"nodes"},"transform":[{"filter":"datum.t=='Bon'"}],"mark":{"type":"rule","color":"black","strokeWidth":2.5,"strokeCap":"square"},"encoding":{"x":{"field":"xl","type":"quantitative","axis":null},"x2":{"field":"xr"},"y":{"field":"h","type":"quantitative","axis":null}}},
{"data":{"name":"nodes"},"transform":[{"filter":"datum.t=='Bon'"}],"mark":{"type":"rule","color":"black","strokeWidth":2.5,"strokeCap":"square"},"encoding":{"x":{"field":"xl","type":"quantitative","axis":null},"y":{"field":"hl","type":"quantitative","axis":null},"y2":{"field":"h"}}},
{"data":{"name":"nodes"},"transform":[{"filter":"datum.t=='Bon'"}],"mark":{"type":"rule","color":"black","strokeWidth":2.5,"strokeCap":"square"},"encoding":{"x":{"field":"xr","type":"quantitative","axis":null},"y":{"field":"hr","type":"quantitative","axis":null},"y2":{"field":"h"}}},
{"data":{"name":"leaves"},"transform":[{"filter":"datum.t=='Bon'"}],"mark":{"type":"text","angle":307,"align":"right","baseline":"middle","dx":-2,"font":"Liberation Sans","fontSize":20,"fontWeight":"bold","color":"black"},"encoding":{"x":{"field":"i","type":"quantitative","axis":null},"y":{"datum":0,"type":"quantitative","axis":null},"text":{"field":"lab"}}}
]},
{"width":612.1,"height":512.7,
"layer":[
{"data":{"name":"pts"},"transform":[{"filter":"datum.t=='Bon'"}],"mark":{"type":"circle","size":70,"color":"black","opacity":1},"encoding":{"x":{"field":"x","type":"quantitative","scale":{"domain":[-0.6011,0.3884],"nice":false,"zero":false},"axis":{"values":[-0.6,-0.4,-0.2,0,0.2],"labelExpr":"replace(format(datum.value,'.1f'),'\u2212','-')","title":null}},"y":{"field":"y","type":"quantitative","scale":{"domain":[-0.5804,0.5489],"nice":false,"zero":false},"axis":{"values":[-0.4,-0.2,0,0.2,0.4],"labelExpr":"replace(format(datum.value,'.1f'),'\u2212','-')","title":"Dim.2","domainDash":[448.4,3000]}}}},
{"data":{"name":"pts"},"transform":[{"filter":"datum.t=='Bon' && isValid(datum.ho)"}],"mark":{"type":"line","interpolate":"linear-closed","fillOpacity":0.72,"strokeWidth":1.5},"encoding":{"x":{"field":"x","type":"quantitative","axis":{"values":[-0.6,-0.4,-0.2,0,0.2],"labelExpr":"replace(format(datum.value,'.1f'),'\u2212','-')","title":null}},"y":{"field":"y","type":"quantitative","axis":{"values":[-0.4,-0.2,0,0.2,0.4],"labelExpr":"replace(format(datum.value,'.1f'),'\u2212','-')","title":"Dim.2","domainDash":[448.4,3000]}},"order":{"field":"ho","type":"quantitative"},"fill":{"field":"realm","type":"nominal","scale":{"domain":["altiphotic","upper mesophotic","lower mesophotic","upper rariphotic","lower rariphotic","below rariphotic"],"range":["#d0dc34","#b8dff2","#6bbbe8","#ddc4e9","#b88fd5","#8227b3"]},"legend":{"title":"depth realm","orient":"none","legendX":1582,"legendY":799,"padding":0,"symbolType":"square","symbolSize":4900,"symbolStrokeColor":"#1f2d4e","symbolStrokeWidth":3,"symbolOpacity":1,"titleFont":"Open Sans","titleFontSize":37,"titleFontWeight":"normal","titleColor":"black","titlePadding":8,"titleLimit":0,"labelFont":"Open Sans","labelFontSize":37,"labelColor":"black","labelOffset":19,"labelLimit":0,"rowPadding":-13.5,"encode":{"symbols":{"update":{"fill":{"scale":"fill","field":"value"},"fillOpacity":{"value":1},"opacity":{"value":1},"stroke":{"value":"#1f2d4e"},"strokeWidth":{"value":3}}}}}},"stroke":{"field":"realm","type":"nominal","scale":{"domain":["upper mesophotic","altiphotic","lower mesophotic","upper rariphotic","lower rariphotic","below rariphotic"],"range":["#9fd0ea","#c8d42c","#4fa9de","#cdb0dd","#a679c8","#7321a3"]},"legend":null}}},
{"data":{"name":"pts"},"transform":[{"filter":"datum.t=='Bon'"}],"mark":{"type":"text","font":"Liberation Sans","fontSize":26,"color":"black","align":"center","baseline":"middle"},"encoding":{"x":{"field":"lx","type":"quantitative","axis":{"values":[-0.6,-0.4,-0.2,0,0.2],"labelExpr":"replace(format(datum.value,'.1f'),'\u2212','-')","title":null}},"y":{"field":"ly","type":"quantitative","axis":{"values":[-0.4,-0.2,0,0.2,0.4],"labelExpr":"replace(format(datum.value,'.1f'),'\u2212','-')","title":"Dim.2","domainDash":[448.4,3000]}},"text":{"field":"n"}}}
]},
{"width":790,"height":535,
"title":{"text":"Statia","anchor":"start","frame":"group","orient":"top","offset":-89,"dx":55,"baseline":"alphabetic","font":"Open Sans","fontSize":37,"fontWeight":"normal","color":"black"},
"layer":[
{"data":{"name":"rects"},"transform":[{"filter":"datum.t=='Sta'"}],"mark":{"type":"rect"},"encoding":{"x":{"field":"x0","type":"quantitative","scale":{"domain":[-1.52,20.755],"nice":false,"zero":false},"axis":null},"x2":{"field":"x1"},"y":{"field":"y0","type":"quantitative","scale":{"domain":[-0.2524,1.1705],"nice":false,"zero":false},"axis":null},"y2":{"field":"y1"},"color":{"field":"realm","type":"nominal","scale":{"domain":["below rariphotic","lower rariphotic","upper rariphotic","lower mesophotic","upper mesophotic","altiphotic"],"range":["#7b3595","#b28bbf","#d8bedc","#6bb3dc","#bbdcec","#c9d42c"]},"legend":null}}},
{"data":{"name":"bars"},"transform":[{"filter":"datum.t=='Sta'"}],"mark":{"type":"rule","color":"black","strokeWidth":5,"strokeCap":"butt"},"encoding":{"x":{"field":"x0","type":"quantitative","axis":null},"x2":{"field":"x1"},"y":{"field":"y","type":"quantitative","axis":null}}},
{"data":{"name":"nodes"},"transform":[{"filter":"datum.t=='Sta'"}],"mark":{"type":"rule","color":"black","strokeWidth":2.5,"strokeCap":"square"},"encoding":{"x":{"field":"xl","type":"quantitative","axis":null},"x2":{"field":"xr"},"y":{"field":"h","type":"quantitative","axis":null}}},
{"data":{"name":"nodes"},"transform":[{"filter":"datum.t=='Sta'"}],"mark":{"type":"rule","color":"black","strokeWidth":2.5,"strokeCap":"square"},"encoding":{"x":{"field":"xl","type":"quantitative","axis":null},"y":{"field":"hl","type":"quantitative","axis":null},"y2":{"field":"h"}}},
{"data":{"name":"nodes"},"transform":[{"filter":"datum.t=='Sta'"}],"mark":{"type":"rule","color":"black","strokeWidth":2.5,"strokeCap":"square"},"encoding":{"x":{"field":"xr","type":"quantitative","axis":null},"y":{"field":"hr","type":"quantitative","axis":null},"y2":{"field":"h"}}},
{"data":{"name":"leaves"},"transform":[{"filter":"datum.t=='Sta'"}],"mark":{"type":"text","angle":303,"align":"right","baseline":"middle","dx":-2,"font":"Liberation Sans","fontSize":21,"fontWeight":"bold","color":"black"},"encoding":{"x":{"field":"i","type":"quantitative","axis":null},"y":{"datum":0,"type":"quantitative","axis":null},"text":{"field":"lab"}}}
]},
{"width":626,"height":506.7,
"layer":[
{"data":{"name":"pts"},"transform":[{"filter":"datum.t=='Sta'"}],"mark":{"type":"circle","size":70,"color":"black","opacity":1},"encoding":{"x":{"field":"x","type":"quantitative","scale":{"domain":[-0.4181,0.519],"nice":false,"zero":false},"axis":{"values":[-0.25,0,0.25,0.5],"labelExpr":"replace(format(datum.value,'.2f'),'\u2212','-')","title":null}},"y":{"field":"y","type":"quantitative","scale":{"domain":[-0.4233,0.5291],"nice":false,"zero":false},"axis":{"values":[-0.4,-0.2,0,0.2,0.4],"labelExpr":"replace(format(datum.value,'.1f'),'\u2212','-')","title":"Dim.2","domainDash":[460.7,3000]}}}},
{"data":{"name":"pts"},"transform":[{"filter":"datum.t=='Sta' && isValid(datum.ho)"}],"mark":{"type":"line","interpolate":"linear-closed","fillOpacity":0.72,"strokeWidth":1.5},"encoding":{"x":{"field":"x","type":"quantitative","axis":{"values":[-0.25,0,0.25,0.5],"labelExpr":"replace(format(datum.value,'.2f'),'\u2212','-')","title":null}},"y":{"field":"y","type":"quantitative","axis":{"values":[-0.4,-0.2,0,0.2,0.4],"labelExpr":"replace(format(datum.value,'.1f'),'\u2212','-')","title":"Dim.2","domainDash":[460.7,3000]}},"order":{"field":"ho","type":"quantitative"},"fill":{"field":"realm","type":"nominal","scale":{"domain":["altiphotic","upper mesophotic","lower mesophotic","upper rariphotic","lower rariphotic","below rariphotic"],"range":["#d0dc34","#b8dff2","#6bbbe8","#ddc4e9","#b88fd5","#8227b3"]},"legend":{"title":"depth realm","orient":"none","legendX":1582,"legendY":799,"padding":0,"symbolType":"square","symbolSize":4900,"symbolStrokeColor":"#1f2d4e","symbolStrokeWidth":3,"symbolOpacity":1,"titleFont":"Open Sans","titleFontSize":37,"titleFontWeight":"normal","titleColor":"black","titlePadding":8,"titleLimit":0,"labelFont":"Open Sans","labelFontSize":37,"labelColor":"black","labelOffset":19,"labelLimit":0,"rowPadding":-13.5,"encode":{"symbols":{"update":{"fill":{"scale":"fill","field":"value"},"fillOpacity":{"value":1},"opacity":{"value":1},"stroke":{"value":"#1f2d4e"},"strokeWidth":{"value":3}}}}}},"stroke":{"field":"realm","type":"nominal","scale":{"domain":["upper mesophotic","altiphotic","lower mesophotic","upper rariphotic","lower rariphotic","below rariphotic"],"range":["#9fd0ea","#c8d42c","#4fa9de","#cdb0dd","#a679c8","#7321a3"]},"legend":null}}},
{"data":{"name":"pts"},"transform":[{"filter":"datum.t=='Sta'"}],"mark":{"type":"text","font":"Liberation Sans","fontSize":26,"color":"black","align":"center","baseline":"middle"},"encoding":{"x":{"field":"lx","type":"quantitative","axis":{"values":[-0.25,0,0.25,0.5],"labelExpr":"replace(format(datum.value,'.2f'),'\u2212','-')","title":null}},"y":{"field":"ly","type":"quantitative","axis":{"values":[-0.4,-0.2,0,0.2,0.4],"labelExpr":"replace(format(datum.value,'.1f'),'\u2212','-')","title":"Dim.2","domainDash":[460.7,3000]}},"text":{"field":"n"}}}
]},
{"width":790,"height":520,
"title":{"text":"Roatán","anchor":"start","frame":"group","orient":"top","offset":-74,"dx":55,"baseline":"alphabetic","font":"Open Sans","fontSize":37,"fontWeight":"normal","color":"black"},
"layer":[
{"data":{"name":"rects"},"transform":[{"filter":"datum.t=='Roa'"}],"mark":{"type":"rect"},"encoding":{"x":{"field":"x0","type":"quantitative","scale":{"domain":[-2.91,36.12],"nice":false,"zero":false},"axis":null},"x2":{"field":"x1"},"y":{"field":"y0","type":"quantitative","scale":{"domain":[-0.2773,1.1616],"nice":false,"zero":false},"axis":null},"y2":{"field":"y1"},"color":{"field":"realm","type":"nominal","scale":{"domain":["below rariphotic","lower rariphotic","upper rariphotic","lower mesophotic","upper mesophotic","altiphotic"],"range":["#7b3595","#b28bbf","#d8bedc","#6bb3dc","#bbdcec","#c9d42c"]},"legend":null}}},
{"data":{"name":"bars"},"transform":[{"filter":"datum.t=='Roa'"}],"mark":{"type":"rule","color":"black","strokeWidth":5,"strokeCap":"butt"},"encoding":{"x":{"field":"x0","type":"quantitative","axis":null},"x2":{"field":"x1"},"y":{"field":"y","type":"quantitative","axis":null}}},
{"data":{"name":"nodes"},"transform":[{"filter":"datum.t=='Roa'"}],"mark":{"type":"rule","color":"black","strokeWidth":2.5,"strokeCap":"square"},"encoding":{"x":{"field":"xl","type":"quantitative","axis":null},"x2":{"field":"xr"},"y":{"field":"h","type":"quantitative","axis":null}}},
{"data":{"name":"nodes"},"transform":[{"filter":"datum.t=='Roa'"}],"mark":{"type":"rule","color":"black","strokeWidth":2.5,"strokeCap":"square"},"encoding":{"x":{"field":"xl","type":"quantitative","axis":null},"y":{"field":"hl","type":"quantitative","axis":null},"y2":{"field":"h"}}},
{"data":{"name":"nodes"},"transform":[{"filter":"datum.t=='Roa'"}],"mark":{"type":"rule","color":"black","strokeWidth":2.5,"strokeCap":"square"},"encoding":{"x":{"field":"xr","type":"quantitative","axis":null},"y":{"field":"hr","type":"quantitative","axis":null},"y2":{"field":"h"}}},
{"data":{"name":"leaves"},"transform":[{"filter":"datum.t=='Roa'"}],"mark":{"type":"text","angle":270,"align":"right","baseline":"middle","dx":-2,"font":"Liberation Sans","fontSize":18,"fontWeight":"bold","color":"black"},"encoding":{"x":{"field":"i","type":"quantitative","axis":null},"y":{"datum":0,"type":"quantitative","axis":null},"text":{"field":"lab"}}}
]},
{"width":626.5,"height":499,
"layer":[
{"data":{"name":"pts"},"transform":[{"filter":"datum.t=='Roa'"}],"mark":{"type":"circle","size":70,"color":"black","opacity":1},"encoding":{"x":{"field":"x","type":"quantitative","scale":{"domain":[-0.5465,0.4645],"nice":false,"zero":false},"axis":{"values":[-0.5,-0.25,0,0.25],"labelExpr":"replace(format(datum.value,'.2f'),'\u2212','-')","title":"Dim.1","titlePadding":3}},"y":{"field":"y","type":"quantitative","scale":{"domain":[-0.3901,0.5798],"nice":false,"zero":false},"axis":{"values":[-0.25,0,0.25,0.5],"labelExpr":"replace(format(datum.value,'.2f'),'\u2212','-')","title":"Dim.2","domainDash":[461.9,3000]}}}},
{"data":{"name":"pts"},"transform":[{"filter":"datum.t=='Roa' && isValid(datum.ho)"}],"mark":{"type":"line","interpolate":"linear-closed","fillOpacity":0.72,"strokeWidth":1.5},"encoding":{"x":{"field":"x","type":"quantitative","axis":{"values":[-0.5,-0.25,0,0.25],"labelExpr":"replace(format(datum.value,'.2f'),'\u2212','-')","title":"Dim.1","titlePadding":3}},"y":{"field":"y","type":"quantitative","axis":{"values":[-0.25,0,0.25,0.5],"labelExpr":"replace(format(datum.value,'.2f'),'\u2212','-')","title":"Dim.2","domainDash":[461.9,3000]}},"order":{"field":"ho","type":"quantitative"},"fill":{"field":"realm","type":"nominal","scale":{"domain":["altiphotic","upper mesophotic","lower mesophotic","upper rariphotic","lower rariphotic","below rariphotic"],"range":["#d0dc34","#b8dff2","#6bbbe8","#ddc4e9","#b88fd5","#8227b3"]},"legend":{"title":"depth realm","orient":"none","legendX":1582,"legendY":799,"padding":0,"symbolType":"square","symbolSize":4900,"symbolStrokeColor":"#1f2d4e","symbolStrokeWidth":3,"symbolOpacity":1,"titleFont":"Open Sans","titleFontSize":37,"titleFontWeight":"normal","titleColor":"black","titlePadding":8,"titleLimit":0,"labelFont":"Open Sans","labelFontSize":37,"labelColor":"black","labelOffset":19,"labelLimit":0,"rowPadding":-13.5,"encode":{"symbols":{"update":{"fill":{"scale":"fill","field":"value"},"fillOpacity":{"value":1},"opacity":{"value":1},"stroke":{"value":"#1f2d4e"},"strokeWidth":{"value":3}}}}}},"stroke":{"field":"realm","type":"nominal","scale":{"domain":["upper mesophotic","altiphotic","lower mesophotic","upper rariphotic","lower rariphotic","below rariphotic"],"range":["#9fd0ea","#c8d42c","#4fa9de","#cdb0dd","#a679c8","#7321a3"]},"legend":null}}},
{"data":{"name":"pts"},"transform":[{"filter":"datum.t=='Roa' && datum.realm=='altiphotic'"}],"mark":{"type":"circle","size":1100,"fillOpacity":0.75,"strokeWidth":3},"encoding":{"x":{"field":"x","type":"quantitative","axis":{"values":[-0.5,-0.25,0,0.25],"labelExpr":"replace(format(datum.value,'.2f'),'\u2212','-')","title":"Dim.1","titlePadding":3}},"y":{"field":"y","type":"quantitative","axis":{"values":[-0.25,0,0.25,0.5],"labelExpr":"replace(format(datum.value,'.2f'),'\u2212','-')","title":"Dim.2","domainDash":[461.9,3000]}},"fill":{"field":"realm","type":"nominal","scale":{"domain":["altiphotic","upper mesophotic","lower mesophotic","upper rariphotic","lower rariphotic","below rariphotic"],"range":["#d0dc34","#b8dff2","#6bbbe8","#ddc4e9","#b88fd5","#8227b3"]},"legend":{"title":"depth realm","orient":"none","legendX":1582,"legendY":799,"padding":0,"symbolType":"square","symbolSize":4900,"symbolStrokeColor":"#1f2d4e","symbolStrokeWidth":3,"symbolOpacity":1,"titleFont":"Open Sans","titleFontSize":37,"titleFontWeight":"normal","titleColor":"black","titlePadding":8,"titleLimit":0,"labelFont":"Open Sans","labelFontSize":37,"labelColor":"black","labelOffset":19,"labelLimit":0,"rowPadding":-13.5,"encode":{"symbols":{"update":{"fill":{"scale":"fill","field":"value"},"fillOpacity":{"value":1},"opacity":{"value":1},"stroke":{"value":"#1f2d4e"},"strokeWidth":{"value":3}}}}}},"stroke":{"field":"realm","type":"nominal","scale":{"domain":["upper mesophotic","altiphotic","lower mesophotic","upper rariphotic","lower rariphotic","below rariphotic"],"range":["#9fd0ea","#c8d42c","#4fa9de","#cdb0dd","#a679c8","#7321a3"]},"legend":null}}},
{"data":{"name":"pts"},"transform":[{"filter":"datum.t=='Roa'"}],"mark":{"type":"text","font":"Liberation Sans","fontSize":26,"color":"black","align":"center","baseline":"middle"},"encoding":{"x":{"field":"lx","type":"quantitative","axis":{"values":[-0.5,-0.25,0,0.25],"labelExpr":"replace(format(datum.value,'.2f'),'\u2212','-')","title":"Dim.1","titlePadding":3}},"y":{"field":"ly","type":"quantitative","axis":{"values":[-0.25,0,0.25,0.5],"labelExpr":"replace(format(datum.value,'.2f'),'\u2212','-')","title":"Dim.2","domainDash":[461.9,3000]}},"text":{"field":"n"}}}
]}
],
"config":{
"view":{"stroke":null},
"axis":{"grid":false,"labelFont":"Liberation Sans","labelFontSize":27,"labelColor":"#222222","domainColor":"black","domainWidth":1.5,"tickColor":"black","tickWidth":1.5,"tickSize":7,"labelPadding":4,"titleFont":"Liberation Sans","titleFontSize":26,"titleFontWeight":"normal","titleColor":"#222222","titlePadding":12,"labelFlush":false,"labelOverlap":false}
}
}
